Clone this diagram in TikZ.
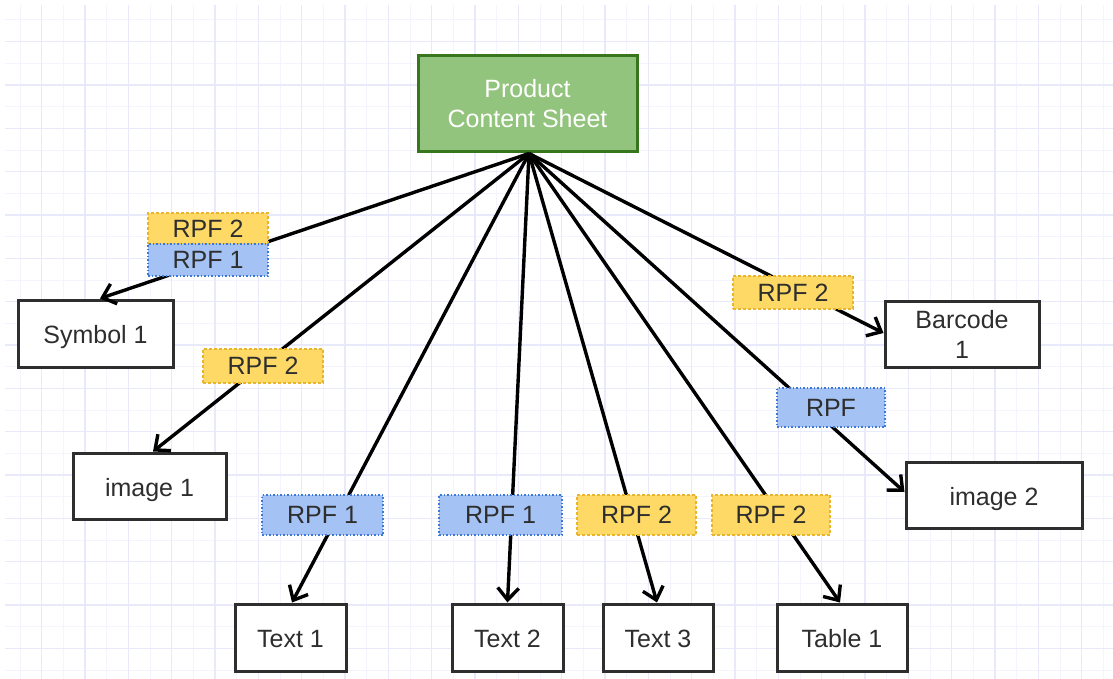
\documentclass[tikz,border=0pt]{standalone}
\usepackage{fontspec}
\setmainfont{Liberation Sans}
\usetikzlibrary{arrows.meta,calc}
\definecolor{gridminor}{HTML}{F4F4FE}
\definecolor{gridmajor}{HTML}{E9E9FC}
\definecolor{pcsfill}{HTML}{93C47D}
\definecolor{pcsdraw}{HTML}{38761D}
\definecolor{boxtext}{HTML}{2E2E2E}
\definecolor{yfill}{HTML}{FFD966}
\definecolor{ydraw}{HTML}{E9B52F}
\definecolor{bfill}{HTML}{A4C2F4}
\definecolor{bdraw}{HTML}{3C78D8}
\tikzset{
  every node/.style={font=\fontsize{25}{30}\selectfont, text=boxtext, align=center, inner sep=0pt},
  itembox/.style={draw=boxtext, line width=3pt, fill=white, minimum width=#1, minimum height=67pt},
  oneline/.style={text height=20pt, text depth=0pt},
  ylabel/.style={fill=yfill, draw=ydraw, line width=1.5pt, dash pattern=on 3pt off 2pt, minimum width=#1},
  blabel/.style={fill=bfill, draw=bdraw, line width=1.5pt, dash pattern=on 1.5pt off 2pt, minimum width=#1},
  conn/.style={line width=3.4pt, black, -{Straight Barb[length=12pt,width=21pt]}},
}
\begin{document}
\begin{tikzpicture}[x=1pt,y=-1pt]
\useasboundingbox (0,0) rectangle (1113,679);
\fill[white] (0,0) rectangle (1113,679);
% grid
\begin{scope}
\clip (5,5) rectangle (1113,679);
\foreach \k in {0,...,51} {
  \draw[gridminor, line width=1pt] ({20+\k*21.667},5) -- ({20+\k*21.667},679);
}
\foreach \k in {0,...,31} {
  \draw[gridminor, line width=1pt] (5,{20+\k*21.667}) -- (1113,{20+\k*21.667});
}
\foreach \k in {0,...,25} {
  \draw[gridmajor, line width=1.2pt] ({41.67+\k*43.333},5) -- ({41.67+\k*43.333},679);
}
\foreach \k in {0,...,15} {
  \draw[gridmajor, line width=1.2pt] (5,{41.67+\k*43.333}) -- (1113,{41.67+\k*43.333});
}
\end{scope}
% main nodes
\node[draw=pcsdraw, fill=pcsfill, line width=3pt, minimum width=219pt, minimum height=96pt, text=white] (pcs) at (527.5,104) {Product\\Content Sheet};
\node[itembox=155pt, oneline] (sym) at (95.5,333.5) {Symbol 1};
\node[itembox=153pt, minimum height=66pt, oneline] (img1) at (149.5,486) {image 1};
\node[itembox=111pt, oneline] (txt1) at (290.5,637.5) {Text 1};
\node[itembox=111pt, oneline] (txt2) at (507.5,637.5) {Text 2};
\node[itembox=110pt, oneline] (txt3) at (658,637.5) {Text 3};
\node[itembox=130pt, oneline] (tab) at (842,637.5) {Table 1};
\node[itembox=154pt, minimum height=66pt] (bar) at (962,334) {Barcode\\1};
\node[itembox=176pt, minimum height=66pt, oneline] (img2) at (994,495) {image 2};
% connectors
\coordinate (o) at ([xshift=1.5pt]pcs.south);
\draw[conn] (o) -- ([xshift=4.5pt]sym.north);
\draw[conn] (o) -- ([xshift=3.5pt]img1.north);
\draw[conn] (o) -- ([xshift=1.5pt]txt1.north);
\draw[conn] (o) -- (txt2.north);
\draw[conn] (o) -- ([xshift=-1pt]txt3.north);
\draw[conn] (o) -- ([xshift=-2pt]tab.north);
\draw[conn] (o) -- ([yshift=1pt]bar.west);
\draw[conn] (o) -- ([yshift=3pt]img2.west);
% labels
\node[ylabel=120pt, minimum height=31pt] (l1a) at (208,228.5) {RPF 2};
\node[blabel=120pt, minimum height=32pt] (l1b) at (208,260) {RPF 1};
\node[ylabel=120pt, minimum height=34pt] (l2) at (263,366) {RPF 2};
\node[blabel=121pt, minimum height=40pt] (l3) at (322.5,515) {RPF 1};
\node[blabel=123pt, minimum height=40pt] (l4) at (500.5,515) {RPF 1};
\node[ylabel=119pt, minimum height=40pt] (l5) at (636.5,515) {RPF 2};
\node[ylabel=118pt, minimum height=40pt] (l6) at (771,515) {RPF 2};
\node[ylabel=120pt, minimum height=33pt] (l7) at (793,292.5) {RPF 2};
\node[blabel=108pt, minimum height=39pt] (l8) at (831,407.5) {RPF};
\end{tikzpicture}
\end{document}
